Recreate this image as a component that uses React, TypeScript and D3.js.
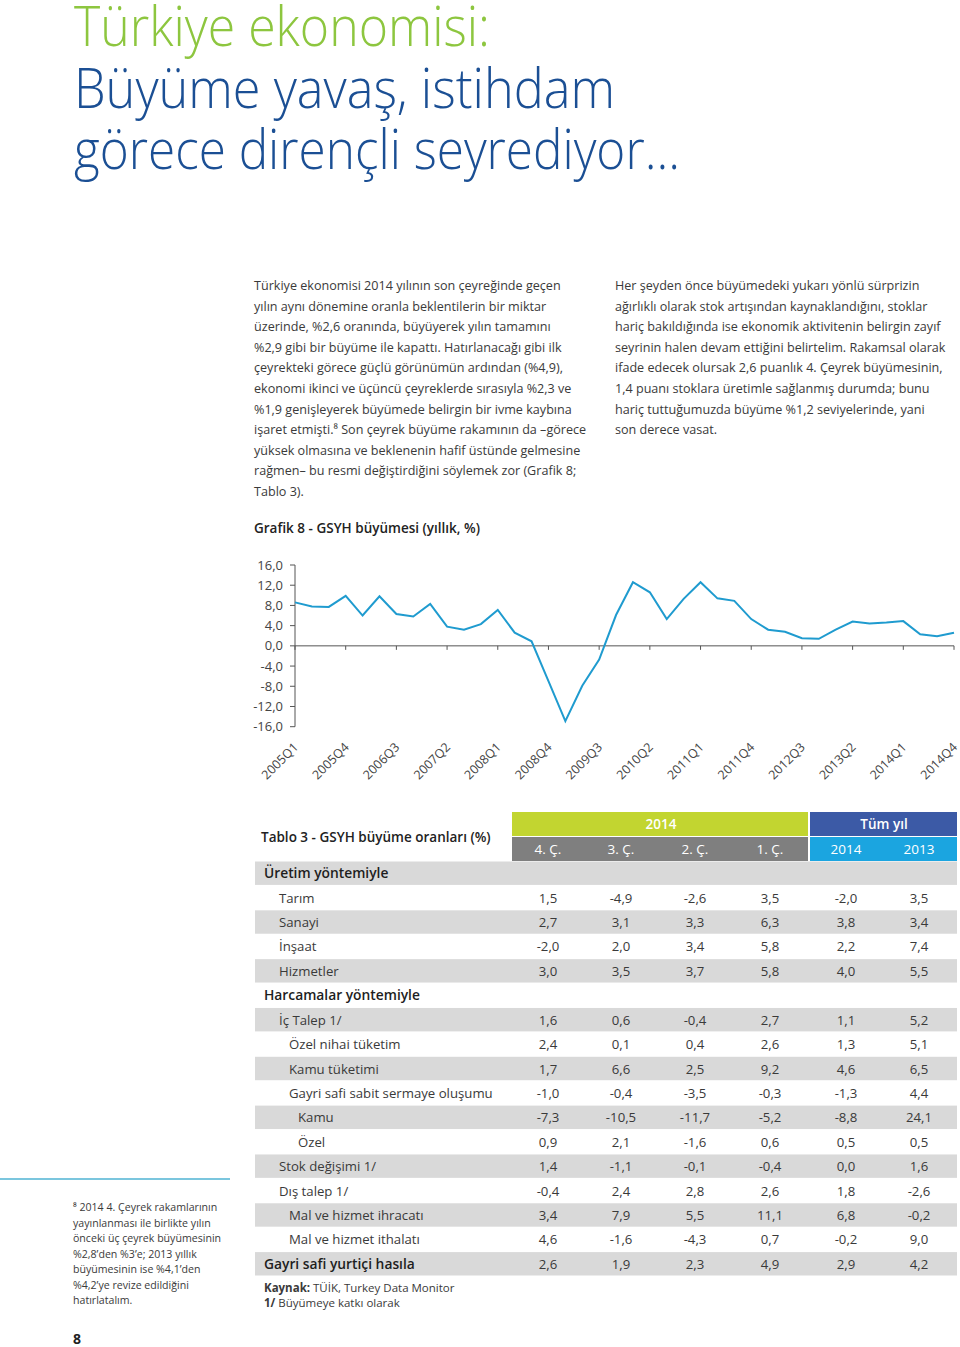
import React from "react";
import * as d3 from "d3";

const years = [2005, 2006, 2007, 2008, 2009, 2010, 2011, 2012, 2013, 2014];
const quarters: string[] = years.flatMap((y) => [1, 2, 3, 4].map((q) => `${y}Q${q}`));
const gdpGrowth = [
  8.6, 7.8, 7.7, 9.9, 6.0, 9.8, 6.3, 5.8, 8.3, 3.8, 3.2, 4.3, 7.1, 2.6, 0.9, -7.0,
  -14.9, -7.9, -2.7, 6.1, 12.6, 10.6, 5.3, 9.3, 12.6, 9.4, 8.9, 5.3, 3.2, 2.8, 1.5, 1.4,
  3.2, 4.8, 4.4, 4.6, 4.9, 2.3, 1.9, 2.6,
];
const tickLabels = [
  "2005Q1", "2005Q4", "2006Q3", "2007Q2", "2008Q1", "2008Q4", "2009Q3",
  "2010Q2", "2011Q1", "2011Q4", "2012Q3", "2013Q2", "2014Q1", "2014Q4",
];
const yTicks = [16, 12, 8, 4, 0, -4, -8, -12, -16];

const titleLines = ["Türkiye ekonomisi:", "Büyüme yavaş, istihdam", "görece dirençli seyrediyor..."];
const titleWidths = [416, 541, 606];
const leftText = [
  "Türkiye ekonomisi 2014 yılının son çeyreğinde geçen",
  "yılın aynı dönemine oranla beklentilerin bir miktar",
  "üzerinde, %2,6 oranında, büyüyerek yılın tamamını",
  "%2,9 gibi bir büyüme ile kapattı. Hatırlanacağı gibi ilk",
  "çeyrekteki görece güçlü görünümün ardından (%4,9),",
  "ekonomi ikinci ve üçüncü çeyreklerde sırasıyla %2,3 ve",
  "%1,9 genişleyerek büyümede belirgin bir ivme kaybına",
  "işaret etmişti.⁸ Son çeyrek büyüme rakamının da –görece",
  "yüksek olmasına ve beklenenin hafif üstünde gelmesine",
  "rağmen– bu resmi değiştirdiğini söylemek zor (Grafik 8;",
  "Tablo 3).",
];
const rightText = [
  "Her şeyden önce büyümedeki yukarı yönlü sürprizin",
  "ağırlıklı olarak stok artışından kaynaklandığını, stoklar",
  "hariç bakıldığında ise ekonomik aktivitenin belirgin zayıf",
  "seyrinin halen devam ettiğini belirtelim. Rakamsal olarak",
  "ifade edecek olursak 2,6 puanlık 4. Çeyrek büyümesinin,",
  "1,4 puanı stoklara üretimle sağlanmış durumda; bunu",
  "hariç tuttuğumuzda büyüme %1,2 seviyelerinde, yani",
  "son derece vasat.",
];
const footnoteText = [
  "⁸ 2014 4. Çeyrek rakamlarının",
  "yayınlanması ile birlikte yılın",
  "önceki üç çeyrek büyümesinin",
  "%2,8’den %3’e; 2013 yıllık",
  "büyümesinin ise %4,1’den",
  "%4,2’ye revize edildiğini",
  "hatırlatalım.",
];

const tableColumns = ["4. Ç.", "3. Ç.", "2. Ç.", "1. Ç.", "2014", "2013"];
const rowLabels = [
  "Üretim yöntemiyle", "Tarım", "Sanayi", "İnşaat", "Hizmetler",
  "Harcamalar yöntemiyle", "İç Talep 1/", "Özel nihai tüketim", "Kamu tüketimi",
  "Gayri safi sabit sermaye oluşumu", "Kamu", "Özel", "Stok değişimi 1/",
  "Dış talep 1/", "Mal ve hizmet ihracatı", "Mal ve hizmet ithalatı",
  "Gayri safi yurtiçi hasıla",
];
const rowIndent = [0, 1, 1, 1, 1, 0, 1, 2, 2, 2, 3, 3, 1, 1, 2, 2, 0];
const rowValues: (string[] | null)[] = [
  null,
  ["1,5", "-4,9", "-2,6", "3,5", "-2,0", "3,5"],
  ["2,7", "3,1", "3,3", "6,3", "3,8", "3,4"],
  ["-2,0", "2,0", "3,4", "5,8", "2,2", "7,4"],
  ["3,0", "3,5", "3,7", "5,8", "4,0", "5,5"],
  null,
  ["1,6", "0,6", "-0,4", "2,7", "1,1", "5,2"],
  ["2,4", "0,1", "0,4", "2,6", "1,3", "5,1"],
  ["1,7", "6,6", "2,5", "9,2", "4,6", "6,5"],
  ["-1,0", "-0,4", "-3,5", "-0,3", "-1,3", "4,4"],
  ["-7,3", "-10,5", "-11,7", "-5,2", "-8,8", "24,1"],
  ["0,9", "2,1", "-1,6", "0,6", "0,5", "0,5"],
  ["1,4", "-1,1", "-0,1", "-0,4", "0,0", "1,6"],
  ["-0,4", "2,4", "2,8", "2,6", "1,8", "-2,6"],
  ["3,4", "7,9", "5,5", "11,1", "6,8", "-0,2"],
  ["4,6", "-1,6", "-4,3", "0,7", "-0,2", "9,0"],
  ["2,6", "1,9", "2,3", "4,9", "2,9", "4,2"],
];

const FONT = "'Open Sans', 'Noto Sans', sans-serif";
const TEXT = "#3a3a3a";

export default function App() {
  const x = d3.scalePoint<string>().domain(quarters).range([295, 954]);
  const y = d3.scaleLinear().domain([-16, 16]).range([726.7, 565]);
  const line = d3
    .line<number>()
    .x((_, i) => x(quarters[i]) as number)
    .y((d) => y(d));
  const fmt = (v: number) => d3.format(".1f")(v).replace(".", ",").replace("−", "-");

  const colX = d3.scaleOrdinal<string, number>().domain(tableColumns).range([548, 621, 695, 770, 846, 919]);
  const rowY = d3.scaleBand<number>().domain(rowLabels.map((_, i) => i)).range([861, 1276]).paddingInner(0);
  const indentX = [264, 279, 289, 298];

  return (
    <svg
      width={960}
      height={1347}
      style={{ position: "absolute", left: 0, top: 0, background: "#fff" }}
      fontFamily={FONT}
    >
      {/* Title */}
      {titleLines.map((t, i) => (
        <text
          key={t}
          x={74}
          y={46 + i * 61.5}
          fontSize={55}
          fontWeight={300}
          textLength={titleWidths[i]}
          lengthAdjust="spacingAndGlyphs"
          fill={i === 0 ? "#8dc63f" : "#1b4f94"}
        >
          {t}
        </text>
      ))}

      {/* Body text */}
      {leftText.map((t, i) => (
        <text key={"l" + i} x={254} y={290 + i * 20.6} fontSize={12.6} fill={TEXT}>
          {t}
        </text>
      ))}
      {rightText.map((t, i) => (
        <text key={"r" + i} x={615} y={290 + i * 20.6} fontSize={12.6} fill={TEXT}>
          {t}
        </text>
      ))}

      {/* Chart title */}
      <text x={254} y={533} fontSize={13.5} fontWeight={600} fill="#222">
        Grafik 8 - GSYH büyümesi (yıllık, %)
      </text>

      {/* Y axis */}
      <line x1={295} x2={295} y1={y(16)} y2={y(-16)} stroke="#555" strokeWidth={1} />
      {yTicks.map((t) => (
        <g key={t}>
          <line x1={290} x2={295} y1={y(t)} y2={y(t)} stroke="#555" />
          <text x={283} y={y(t) + 4.5} textAnchor="end" fontSize={13} fill="#444">
            {fmt(t)}
          </text>
        </g>
      ))}
      {/* X axis */}
      <line x1={295} x2={954} y1={y(0)} y2={y(0)} stroke="#555" strokeWidth={1} />
      {tickLabels.map((lab) => {
        const px = x(lab) as number;
        return (
          <g key={lab}>
            <line x1={px} x2={px} y1={y(0)} y2={y(0) + 4} stroke="#555" />
            <text
              transform={`translate(${px + 4},${748}) rotate(-45)`}
              textAnchor="end"
              fontSize={12.5}
              fill="#444"
            >
              {lab}
            </text>
          </g>
        );
      })}
      <path d={line(gdpGrowth) || ""} fill="none" stroke="#1f9bcf" strokeWidth={2} strokeLinejoin="miter" />

      {/* Table header */}
      <text x={261} y={842} fontSize={13.5} fontWeight={600} fill="#222">
        Tablo 3 - GSYH büyüme oranları (%)
      </text>
      <rect x={512} y={812} width={296} height={24} fill="#c2d530" />
      <rect x={810} y={812} width={147} height={24} fill="#3c5aa6" />
      <rect x={512} y={837} width={296} height={24} fill="#7f7f7f" />
      <rect x={810} y={837} width={147} height={24} fill="#1ba5e0" />
      <text x={661} y={829} textAnchor="middle" fontSize={13.5} fontWeight={600} fill="#fff">
        2014
      </text>
      <text x={884} y={829} textAnchor="middle" fontSize={13.5} fontWeight={600} fill="#fff">
        Tüm yıl
      </text>
      {tableColumns.map((c) => (
        <text key={c} x={colX(c)} y={854} textAnchor="middle" fontSize={13.5} fill="#fff">
          {c}
        </text>
      ))}

      {/* Table rows */}
      {rowLabels.map((lab, i) => {
        const top = rowY(i) as number;
        const h = rowY.bandwidth();
        const isSection = rowIndent[i] === 0;
        const vals = rowValues[i];
        return (
          <g key={lab + i}>
            {i % 2 === 0 && <rect x={255} y={top + 0.5} width={702} height={h - 1} fill="#d9d9d9" />}
            <text
              x={indentX[rowIndent[i]]}
              y={top + h / 2 + 5}
              fontSize={isSection ? 13.8 : 13.2}
              fontWeight={isSection ? 600 : 400}
              fill={isSection ? "#1e1e1e" : TEXT}
            >
              {lab}
            </text>
            {vals &&
              vals.map((v, j) => (
                <text
                  key={j}
                  x={colX(tableColumns[j])}
                  y={top + h / 2 + 5}
                  textAnchor="middle"
                  fontSize={13.2}
                  fill={TEXT}
                >
                  {v}
                </text>
              ))}
          </g>
        );
      })}

      {/* Source */}
      <text x={264} y={1292} fontSize={11.5} fill={TEXT}>
        <tspan fontWeight={700}>Kaynak:</tspan> TÜİK, Turkey Data Monitor
      </text>
      <text x={264} y={1307} fontSize={11.5} fill={TEXT}>
        <tspan fontWeight={700}>1/</tspan> Büyümeye katkı olarak
      </text>

      {/* Footnote */}
      <line x1={0} x2={230} y1={1179} y2={1179} stroke="#4fb3d3" strokeWidth={1.5} />
      {footnoteText.map((t, i) => (
        <text key={"f" + i} x={73} y={1211 + i * 15.5} fontSize={10.6} fill={TEXT}>
          {t}
        </text>
      ))}
      <text x={73} y={1344} fontSize={14} fontWeight={700} fill="#222">
        8
      </text>
    </svg>
  );
}
